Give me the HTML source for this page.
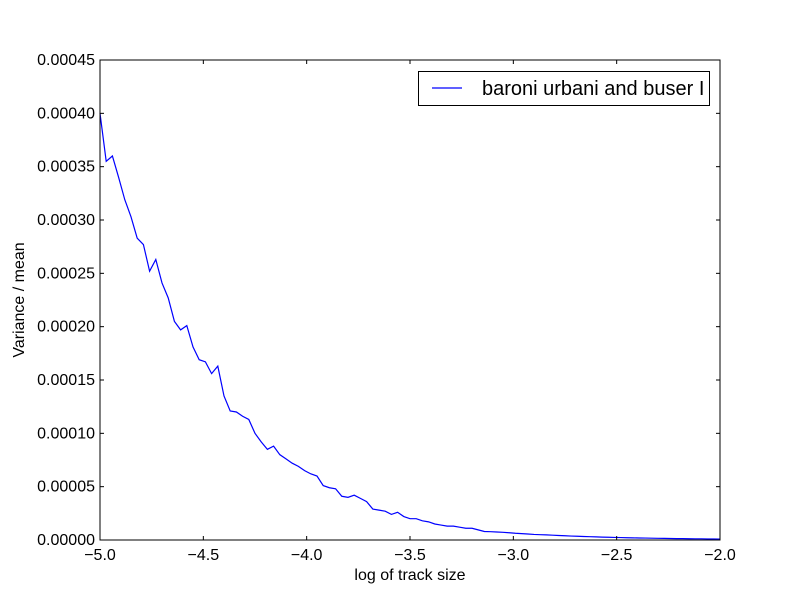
<!DOCTYPE html>
<html><head><meta charset="utf-8"><style>
body{margin:0;background:#fff;}
svg{font-family:"Liberation Sans",sans-serif;}
</style></head><body>
<svg id="chart" width="800" height="600" xmlns="http://www.w3.org/2000/svg"></svg>
<script>
const yValues=[0.000400,0.000355,0.000360,0.000340,0.000319,0.000303,0.000283,0.000277,0.000252,0.000263,0.000241,0.000227,0.000205,0.000197,0.000201,0.000181,0.000169,0.000167,0.000156,0.000163,0.000135,0.000121,0.000120,0.000116,0.000113,0.000100,0.000092,0.000085,0.000088,0.000080,0.000076,0.000072,0.000069,0.000065,0.000062,0.000060,0.000051,0.000049,0.000048,0.000041,0.000040,0.000042,0.000039,0.000036,0.000029,0.000028,0.000027,0.000024,0.000026,0.000022,0.000020,0.000020,0.000018,0.000017,0.000015,0.000014,0.000013,0.000013,0.000012,0.000011,0.000011,0.0000095,0.000008,
0.0000078,0.0000075,0.0000072,0.0000068,0.0000063,0.0000060,0.0000056,0.0000052,0.0000050,0.0000048,0.0000045,0.0000042,0.0000040,0.0000037,0.0000035,0.0000033,0.0000031,0.0000029,0.0000027,0.0000026,0.0000024,0.0000023,0.0000021,0.0000020,0.0000019,0.0000018,0.0000017,0.0000016,0.0000015,0.0000014,0.0000013,0.0000013,0.0000012,0.0000011,0.0000011,0.0000010,0.0000010,0.0000009];
const xStart=-5, xEnd=-2;
const xTicks=[-5,-4.5,-4,-3.5,-3,-2.5,-2];
const xTickLabels=["\u22125.0","\u22124.5","\u22124.0","\u22123.5","\u22123.0","\u22122.5","\u22122.0"];
const yTicks=[0,0.00005,0.0001,0.00015,0.0002,0.00025,0.0003,0.00035,0.0004,0.00045];
const yTickLabels=["0.00000","0.00005","0.00010","0.00015","0.00020","0.00025","0.00030","0.00035","0.00040","0.00045"];
const L=100,R=720,T=60,B=540;
const sx=v=>L+(v-xStart)/(xEnd-xStart)*(R-L);
const sy=v=>B-v/0.00045*(B-T);
const svg=document.getElementById('chart');
const NS='http://www.w3.org/2000/svg';
function mk(t,a,txt){const e=document.createElementNS(NS,t);for(const k in a)e.setAttribute(k,a[k]);if(txt!==undefined)e.textContent=txt;svg.appendChild(e);return e;}
const n=yValues.length;
const pts=yValues.map((v,i)=>sx(xStart+i*(xEnd-xStart)/(n-1)).toFixed(2)+','+sy(v).toFixed(2)).join(' ');
let line=mk('polyline',{points:pts,fill:'none',stroke:'#0000ff','stroke-width':1.2});


xTicks.forEach((v,i)=>{const x=sx(v);
 mk('line',{x1:x,x2:x,y1:B,y2:B-4,stroke:'#000'});mk('line',{x1:x,x2:x,y1:T,y2:T+4,stroke:'#000'});
 let t=mk('text',{x:x,y:B+20,'text-anchor':'middle','font-size':16},xTickLabels[i]);
 
 });
yTicks.forEach((v,i)=>{const y=sy(v);
 mk('line',{x1:L,x2:L+4,y1:y,y2:y,stroke:'#000'});mk('line',{x1:R,x2:R-4,y1:y,y2:y,stroke:'#000'});
 let t=mk('text',{x:L-5,y:y+5,'text-anchor':'end','font-size':16},yTickLabels[i]);
 
 });
let fr=mk('rect',{x:L,y:T,width:R-L,height:B-T,fill:'none',stroke:'#000'});


let xl=mk('text',{x:410,y:580,'text-anchor':'middle','font-size':16},'log of track size');


let yl=mk('text',{x:0,y:0,'text-anchor':'middle','font-size':16,transform:'translate(24,300) rotate(-90)'},'Variance / mean');


let lg=mk('rect',{x:418.5,y:71.5,width:291,height:34,fill:'#fff',stroke:'#000'});


mk('line',{x1:432,x2:462,y1:88,y2:88,stroke:'#0000ff','stroke-width':1.2});
let lt=mk('text',{x:482,y:95,'font-size':20},'baroni urbani and buser I');


</script>
</body></html>
